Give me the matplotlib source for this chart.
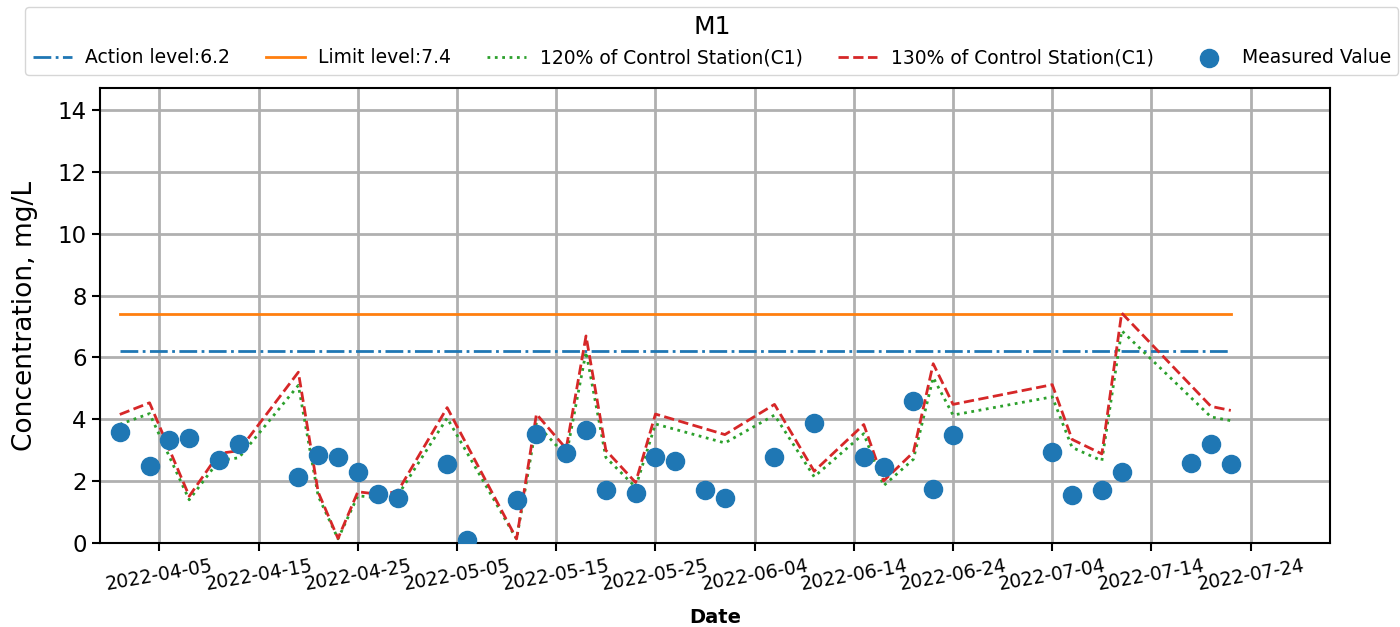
import numpy as np
import pandas as pd
import matplotlib
matplotlib.use("Agg")
import matplotlib.pyplot as plt
import matplotlib.dates as mdates

# measured values at M1
meas_dates = ['2022-04-01', '2022-04-04', '2022-04-06', '2022-04-08', '2022-04-11', '2022-04-13',
              '2022-04-19', '2022-04-21', '2022-04-23', '2022-04-25', '2022-04-27', '2022-04-29',
              '2022-05-04', '2022-05-06', '2022-05-11', '2022-05-13', '2022-05-16', '2022-05-18',
              '2022-05-20', '2022-05-23', '2022-05-25', '2022-05-27', '2022-05-30', '2022-06-01',
              '2022-06-06', '2022-06-10', '2022-06-15', '2022-06-17', '2022-06-20', '2022-06-22',
              '2022-06-24', '2022-07-04', '2022-07-06', '2022-07-09', '2022-07-11', '2022-07-18',
              '2022-07-20', '2022-07-22']
meas_values = [3.60, 2.50, 3.35, 3.40, 2.68, 3.21,
               2.15, 2.86, 2.80, 2.29, 1.60, 1.45,
               2.57, 0.10, 1.40, 3.54, 2.90, 3.65,
               1.71, 1.64, 2.79, 2.65, 1.71, 1.45,
               2.79, 3.90, 2.79, 2.45, 4.61, 1.75,
               3.50, 2.94, 1.56, 1.71, 2.30, 2.60,
               3.20, 2.55]

# control station C1
ctrl_dates = ['2022-04-01', '2022-04-04', '2022-04-08', '2022-04-11', '2022-04-13', '2022-04-19',
              '2022-04-21', '2022-04-23', '2022-04-25', '2022-04-27', '2022-04-29', '2022-05-04',
              '2022-05-11', '2022-05-13', '2022-05-16', '2022-05-18', '2022-05-20', '2022-05-23',
              '2022-05-25', '2022-06-01', '2022-06-06', '2022-06-10', '2022-06-15', '2022-06-17',
              '2022-06-20', '2022-06-22', '2022-06-24', '2022-07-04', '2022-07-06', '2022-07-09',
              '2022-07-11', '2022-07-20', '2022-07-22']
ctrl_values = [3.20, 3.49, 1.17, 2.23, 2.30, 4.25,
               1.27, 0.12, 1.28, 1.22, 1.28, 3.37,
               0.11, 3.21, 2.35, 5.15, 2.31, 1.51,
               3.21, 2.70, 3.45, 1.79, 2.95, 1.55,
               2.26, 4.46, 3.45, 3.94, 2.58, 2.22,
               5.72, 3.40, 3.30]

action_level = 6.2
limit_level = 7.4

md = pd.to_datetime(meas_dates)
cd = pd.to_datetime(ctrl_dates)
cv = np.array(ctrl_values)

fig = plt.figure(figsize=(14, 6.27), dpi=100)
ax = fig.add_axes([0.0714, 0.1335, 0.8786, 0.7261])

ax.plot([md[0], md[-1]], [action_level, action_level], color='tab:blue', ls='-.', lw=2,
        label='Action level:' + str(action_level))
ax.plot([md[0], md[-1]], [limit_level, limit_level], color='tab:orange', ls='-', lw=2,
        label='Limit level:' + str(limit_level))
ax.plot(cd, cv * 1.2, color='tab:green', ls=':', lw=2, label='120% of Control Station(C1)')
ax.plot(cd, cv * 1.3, color='tab:red', ls='--', lw=2, label='130% of Control Station(C1)')
ax.scatter(md, meas_values, s=170, color='tab:blue', zorder=3, label='Measured Value')

ax.set_xlim(pd.Timestamp('2022-03-30'), pd.Timestamp('2022-08-01'))
ax.set_ylim(0, 14.7)
ax.set_yticks([0, 2, 4, 6, 8, 10, 12, 14])
ax.set_xticks(pd.date_range('2022-04-05', '2022-07-24', freq='10D'))
ax.xaxis.set_major_formatter(mdates.DateFormatter('%Y-%m-%d'))
plt.setp(ax.get_xticklabels(), rotation=10, fontsize=13.5)
ax.tick_params(axis='y', labelsize=16.5, width=1.5, length=6)
ax.tick_params(axis='x', width=1.5, length=6)
for s in ax.spines.values():
    s.set_linewidth(1.5)

ax.grid(True, color='#b0b0b0', lw=2)
ax.set_axisbelow(True)
ax.set_xlabel('Date', fontsize=14, fontweight='bold', labelpad=10)
ax.set_ylabel('Concentration, mg/L', fontsize=19, labelpad=14)

ax.legend(loc='upper center', bbox_to_anchor=(0.4975, 1.198), ncol=5, fontsize=13.5,
          title='M1', title_fontsize=18, columnspacing=1.9, handlelength=2.1,
          handletextpad=0.7)

fig.savefig('out.png', dpi=100)
